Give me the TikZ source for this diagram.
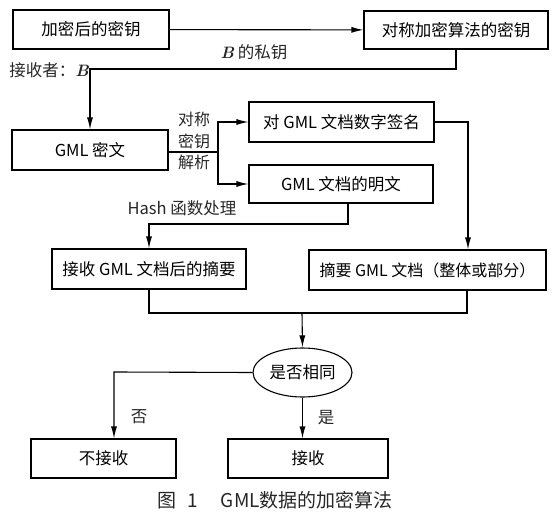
\documentclass[tikz,border=0pt]{standalone}
\usepackage{fontspec}
\newfontfamily\cjk{Noto Sans CJK SC}
\usepackage{tikz}
\usetikzlibrary{shapes.geometric, arrows.meta}
\tikzstyle{process} = [rectangle, minimum width=156pt, minimum height=39pt, inner sep=0pt, text centered, draw=black, line width=1.1pt, font=\cjk\fontsize{16.5}{18}\selectfont]
\tikzstyle{judge} = [ellipse, minimum width=99pt, minimum height=49pt, inner sep=0pt, text centered, draw=black, line width=1.1pt, font=\cjk\fontsize{16.5}{18}\selectfont]
\tikzstyle{note} = [inner sep=0pt, text=black!85, font=\cjk\fontsize{16.5}{18}\selectfont]
\tikzstyle{wire} = [line width=1.1pt]
\tikzstyle{arrow} = [wire, -{Latex[length=12pt,width=6pt]}]

\begin{document}
\begin{tikzpicture}[x=1pt, y=-1pt]
	\useasboundingbox (0,0) rectangle (557,516);
	\node (enckey) [process] at (91,29.5) {加密后的密钥};
	\node (symkey) [process, minimum width=184pt, minimum height=38pt] at (456,30) {对称加密算法的密钥};
	\node (cipher) [process, minimum height=40pt] at (90,150) {GML 密文};
	\node (sign) [process, minimum width=185pt, minimum height=40pt] at (341.5,122) {对 GML 文档数字签名};
	\node (plain) [process, minimum width=184pt, minimum height=38pt] at (341,184) {GML 文档的明文};
	\node (digrecv) [process, minimum width=194pt, minimum height=40pt] at (149,269) {接收 GML 文档后的摘要};
	\node (digsend) [process, minimum width=237pt, minimum height=40pt, font=\cjk\fontsize{16}{18}\selectfont] at (427.5,270) {摘要 GML 文档（整体或部分）};
	\node (same) [judge] at (302.5,372.5) {是否相同};
	\node (reject) [process, minimum width=145pt] at (103.5,458.5) {不接收};
	\node (accept) [process, minimum width=160pt] at (308,458.5) {接收};

	\coordinate (recvturn) at (90,69);
	\coordinate (fork) at (218,152);
	\coordinate (signturn) at (468,122);
	\coordinate (hashturn) at (348,224);
	\coordinate (mergeR) at (467,313);
	\coordinate (merge) at (302,313);
	\coordinate (noturn) at (114,372);

	\draw [arrow](enckey) -- (symkey);
	\draw [arrow](symkey.south) |- (recvturn) -- (cipher.north);
	\draw [wire](cipher.east |- fork) -- (fork);
	\draw [arrow](fork) |- (sign.west);
	\draw [arrow](fork) |- (plain.west);
	\draw [arrow](sign.east |- signturn) -- (signturn) -- (signturn |- digsend.north);
	\draw [arrow](plain.south -| hashturn) -- (hashturn) -| (digrecv.north);
	\draw [wire](digrecv.south) |- (mergeR) -- (mergeR |- digsend.south);
	\draw [arrow](merge) -- (same.north);
	\draw [arrow](same.west) -- (noturn) -- (noturn |- reject.north);
	\draw [arrow](same.south) -- (same.south |- accept.north);

	\node (recvlbl) [note, anchor=east] at (89,70) {接收者：{\normalfont\bfseries\itshape B}};
	\node (privlbl) [note] at (254,52) {{\normalfont\bfseries\itshape B} 的私钥};
	\node (symlbl) [note, align=center, font=\cjk\fontsize{16}{21.5}\selectfont] at (194,141) {对称\\密钥\\解析};
	\node (hashlbl) [note] at (182,208) {Hash 函数处理};
	\node (nolbl) [note] at (139,417) {否};
	\node (yeslbl) [note] at (326,418) {是};
	\node (caption) [note, font=\cjk\fontsize{19}{21}\selectfont] at (275,500) {图\hspace{0.6em}1\hspace{1.2em}GML数据的加密算法};
\end{tikzpicture}
\end{document}
